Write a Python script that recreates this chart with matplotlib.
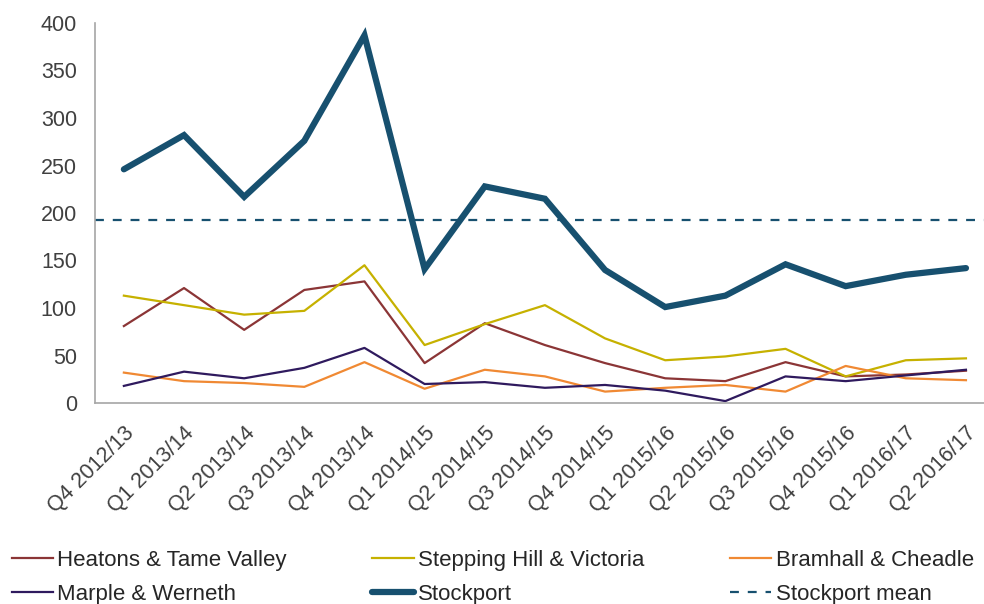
import numpy as np
import matplotlib.pyplot as plt

plt.rcParams['font.family'] = ['Liberation Sans', 'DejaVu Sans']

quarters = ['Q4 2012/13', 'Q1 2013/14', 'Q2 2013/14', 'Q3 2013/14', 'Q4 2013/14',
            'Q1 2014/15', 'Q2 2014/15', 'Q3 2014/15', 'Q4 2014/15',
            'Q1 2015/16', 'Q2 2015/16', 'Q3 2015/16', 'Q4 2015/16',
            'Q1 2016/17', 'Q2 2016/17']

heatons = [81, 121, 77, 119, 128, 42, 84, 61, 42, 26, 23, 43, 28, 30, 34]
stepping_hill = [113, 103, 93, 97, 145, 61, 83, 103, 68, 45, 49, 57, 28, 45, 47]
bramhall = [32, 23, 21, 17, 43, 15, 35, 28, 12, 16, 19, 12, 39, 26, 24]
marple = [18, 33, 26, 37, 58, 20, 22, 16, 19, 13, 2, 28, 23, 29, 35]
stockport = [246, 282, 217, 276, 387, 141, 228, 215, 140, 101, 113, 146, 123, 135, 142]

stockport_mean = np.mean(stockport)

fig = plt.figure(figsize=(9.84, 6.04), dpi=100)
ax = fig.add_axes([95 / 984, 201 / 604, 889 / 984, 380 / 604])

x = np.arange(len(quarters))
h1, = ax.plot(x, heatons, color='#8B3536', lw=1.6, label='Heatons & Tame Valley')
h2, = ax.plot(x, stepping_hill, color='#C6B100', lw=1.6, label='Stepping Hill & Victoria')
h3, = ax.plot(x, bramhall, color='#F08933', lw=1.6, label='Bramhall & Cheadle')
h4, = ax.plot(x, marple, color='#2F1A5E', lw=1.6, label='Marple & Werneth')
h5, = ax.plot(x, stockport, color='#17506F', lw=4.5, label='Stockport',
              solid_joinstyle='miter', solid_capstyle='round')
h6 = ax.axhline(stockport_mean, color='#17506F', lw=1.6, ls=(0, (4, 4)),
                label='Stockport mean')

ax.set_xlim(-0.48, 14.3)
ax.set_ylim(0, 400)
ax.set_yticks(range(0, 401, 50))
ax.set_xticks(x)
ax.set_xticklabels(quarters, rotation=45, ha='right', rotation_mode='anchor')
ax.tick_params(axis='both', length=0, labelsize=15.5, colors='#404040')
ax.tick_params(axis='y', pad=13)
ax.tick_params(axis='x', pad=14)

for side in ['top', 'right']:
    ax.spines[side].set_visible(False)
for side in ['left', 'bottom']:
    ax.spines[side].set_color('#A6A6A6')
    ax.spines[side].set_linewidth(1.2)

handles = [h1, h4, h2, h5, h3, h6]
fig.legend(handles=handles, labels=[h.get_label() for h in handles],
           ncol=3, loc='lower left', bbox_to_anchor=(-0.006, -0.031),
           frameon=False, fontsize=16, handlelength=1.85, handletextpad=0.2,
           columnspacing=3.85, labelspacing=0.6, labelcolor='#262626',
           borderpad=0.3)

fig.savefig('out.png', dpi=100)
